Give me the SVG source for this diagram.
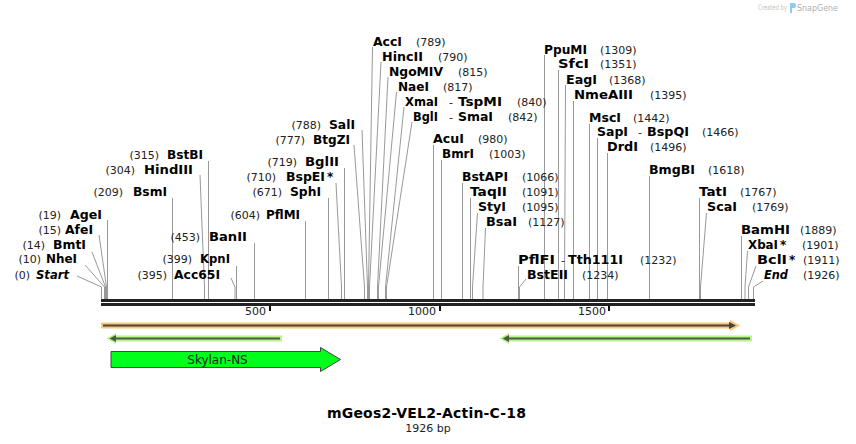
<svg xmlns="http://www.w3.org/2000/svg" width="856" height="444" viewBox="0 0 856 444">
<style>
.n{font-family:"DejaVu Sans",Verdana,sans-serif;font-size:12px;font-weight:bold;fill:#000}
.i{font-style:italic}
.p{font-family:"DejaVu Sans",Verdana,sans-serif;font-size:11px;fill:#222}
.e{text-anchor:end}
.l{stroke:#999;stroke-width:1;fill:none}
.tk{stroke:#111;stroke-width:2}
</style>
<rect width="856" height="444" fill="#fff"/>
<g id="watermark">
<text x="758" y="10" font-family="DejaVu Sans,sans-serif" font-size="7.5" fill="#c4c4c4" textLength="29" lengthAdjust="spacingAndGlyphs">Created by</text>
<path d="M790,3 h3.5 a2.5,2.5 0 0 1 0,5 h-1.5 v5 h-2 z" fill="#8ecbf2"/>
<text x="797" y="11" font-family="DejaVu Sans,sans-serif" font-size="9.5" fill="#b0b0b0" textLength="41" lengthAdjust="spacingAndGlyphs">SnapGene</text>
</g>
<g id="backbone">
<rect x="101" y="299" width="654" height="3" fill="#222"/>
<rect x="101" y="303" width="654" height="3" fill="#222"/>
<line class="tk" x1="270" y1="306" x2="270" y2="311"/>
<line class="tk" x1="440" y1="306" x2="440" y2="311"/>
<line class="tk" x1="609" y1="306" x2="609" y2="311"/>
<text class="p e" x="266" y="315">500</text>
<text class="p e" x="436" y="315">1000</text>
<text class="p e" x="606" y="315">1500</text>
</g>
<g id="connectors">
<polyline class="l" points="77,276 101.5,287 101.5,299"/>
<polyline class="l" points="85,265 104.5,287 104.5,299"/>
<polyline class="l" points="92,252 105.5,287 105.5,299"/>
<polyline class="l" points="99,235 106.5,287 106.5,299"/>
<polyline class="l" points="107.5,220 107.5,299"/>
<polyline class="l" points="172.5,198 172.5,299"/>
<polyline class="l" points="200,175 204.5,287 204.5,299"/>
<polyline class="l" points="208.5,161 208.5,299"/>
<polyline class="l" points="231,278 235,287 235,299"/>
<polyline class="l" points="236.5,266 236.5,299"/>
<polyline class="l" points="254.5,243 254.5,299"/>
<polyline class="l" points="305.5,221 305.5,299"/>
<polyline class="l" points="328.5,198 328.5,299"/>
<polyline class="l" points="336,183 341.5,287 341.5,299"/>
<polyline class="l" points="344.5,168 344.5,299"/>
<polyline class="l" points="354,145 364.5,287 364.5,299"/>
<polyline class="l" points="362,130 367.5,287 367.5,299"/>
<polyline class="l" points="372.5,47 368.5,287 368.5,299"/>
<polyline class="l" points="381,62 369.5,287 369.5,299"/>
<polyline class="l" points="388,77 377.5,287 377.5,299"/>
<polyline class="l" points="396.5,92 378.5,287 378.5,299"/>
<polyline class="l" points="404,107 385.5,287 385.5,299"/>
<polyline class="l" points="412,122 386.5,287 386.5,299"/>
<polyline class="l" points="433.5,145 433.5,299"/>
<polyline class="l" points="441.5,160 441.5,299"/>
<polyline class="l" points="462.5,183 462.5,299"/>
<polyline class="l" points="470.5,198 470.5,299"/>
<polyline class="l" points="477.5,213 472.5,287 472.5,299"/>
<polyline class="l" points="485.5,228 483,287 483,299"/>
<polyline class="l" points="518.5,266 518.5,299"/>
<polyline class="l" points="526,279 519.5,287 519.5,299"/>
<polyline class="l" points="544.5,55 544.5,299"/>
<polyline class="l" points="558.5,70 558.5,299"/>
<polyline class="l" points="565.5,85 564.5,287 564.5,299"/>
<polyline class="l" points="573.5,101 573.5,299"/>
<polyline class="l" points="589.5,124 589.5,299"/>
<polyline class="l" points="597.5,138 597.5,299"/>
<polyline class="l" points="607.5,153 607.5,299"/>
<polyline class="l" points="649.5,176 649.5,299"/>
<polyline class="l" points="699.5,198 699.5,299"/>
<polyline class="l" points="706.5,213 700.5,287 700.5,299"/>
<polyline class="l" points="741.5,236 741.5,299"/>
<polyline class="l" points="747.5,251 745,287 745,299"/>
<polyline class="l" points="756,266 748.5,287 748.5,299"/>
<polyline class="l" points="763,281 753.5,287 753.5,299"/>
</g>
<g id="Start"><text class="p e" x="30" y="279">(0)</text><text class="n i" x="36" y="279" textLength="33" lengthAdjust="spacingAndGlyphs">Start</text></g>
<g id="NheI"><text class="p e" x="41" y="263">(10)</text><text class="n" x="46" y="263" textLength="31" lengthAdjust="spacingAndGlyphs">NheI</text></g>
<g id="BmtI"><text class="p e" x="45" y="249">(14)</text><text class="n" x="53" y="249" textLength="33" lengthAdjust="spacingAndGlyphs">BmtI</text></g>
<g id="AfeI"><text class="p e" x="61" y="234">(15)</text><text class="n" x="65" y="234" textLength="28" lengthAdjust="spacingAndGlyphs">AfeI</text></g>
<g id="AgeI"><text class="p e" x="61" y="219">(19)</text><text class="n" x="70" y="219" textLength="32" lengthAdjust="spacingAndGlyphs">AgeI</text></g>
<g id="BsmI"><text class="p e" x="123" y="196">(209)</text><text class="n" x="133" y="196" textLength="34" lengthAdjust="spacingAndGlyphs">BsmI</text></g>
<g id="HindIII"><text class="p e" x="135" y="174">(304)</text><text class="n" x="144" y="174" textLength="49" lengthAdjust="spacingAndGlyphs">HindIII</text></g>
<g id="BstBI"><text class="p e" x="159" y="159">(315)</text><text class="n" x="167" y="159" textLength="36" lengthAdjust="spacingAndGlyphs">BstBI</text></g>
<g id="Acc65I"><text class="p e" x="167" y="279">(395)</text><text class="n" x="174" y="279" textLength="46" lengthAdjust="spacingAndGlyphs">Acc65I</text></g>
<g id="KpnI"><text class="p e" x="192" y="263">(399)</text><text class="n" x="200" y="263" textLength="30" lengthAdjust="spacingAndGlyphs">KpnI</text></g>
<g id="BanII"><text class="p e" x="200" y="241">(453)</text><text class="n" x="209" y="241" textLength="38" lengthAdjust="spacingAndGlyphs">BanII</text></g>
<g id="PflMI"><text class="p e" x="260" y="219">(604)</text><text class="n" x="266" y="219" textLength="34" lengthAdjust="spacingAndGlyphs">PflMI</text></g>
<g id="SphI"><text class="p e" x="282" y="196">(671)</text><text class="n" x="290" y="196" textLength="31" lengthAdjust="spacingAndGlyphs">SphI</text></g>
<g id="BspEI"><text class="p e" x="276" y="181">(710)</text><text class="n" x="286" y="181" textLength="39" lengthAdjust="spacingAndGlyphs">BspEI</text><text class="n" x="327" y="181">*</text></g>
<g id="BglII"><text class="p e" x="297" y="166">(719)</text><text class="n" x="305" y="166" textLength="34" lengthAdjust="spacingAndGlyphs">BglII</text></g>
<g id="BtgZI"><text class="p e" x="305" y="144">(777)</text><text class="n" x="313" y="144" textLength="37" lengthAdjust="spacingAndGlyphs">BtgZI</text></g>
<g id="SalI"><text class="p e" x="321" y="129">(788)</text><text class="n" x="329" y="129" textLength="26" lengthAdjust="spacingAndGlyphs">SalI</text></g>
<g id="AccI"><text class="n" x="373" y="46" textLength="29" lengthAdjust="spacingAndGlyphs">AccI</text><text class="p" x="416" y="46">(789)</text></g>
<g id="HincII"><text class="n" x="382" y="61" textLength="41" lengthAdjust="spacingAndGlyphs">HincII</text><text class="p" x="438" y="61">(790)</text></g>
<g id="NgoMIV"><text class="n" x="389" y="76" textLength="54" lengthAdjust="spacingAndGlyphs">NgoMIV</text><text class="p" x="458" y="76">(815)</text></g>
<g id="NaeI"><text class="n" x="398" y="91" textLength="31" lengthAdjust="spacingAndGlyphs">NaeI</text><text class="p" x="443" y="91">(817)</text></g>
<g id="XmaI"><text class="n" x="405" y="106" textLength="33" lengthAdjust="spacingAndGlyphs">XmaI</text><text class="p" x="449" y="106">-</text><text class="n" x="458" y="106" textLength="44" lengthAdjust="spacingAndGlyphs">TspMI</text><text class="p" x="517" y="106">(840)</text></g>
<g id="BglI"><text class="n" x="413" y="121" textLength="25" lengthAdjust="spacingAndGlyphs">BglI</text><text class="p" x="449" y="121">-</text><text class="n" x="458" y="121" textLength="35" lengthAdjust="spacingAndGlyphs">SmaI</text><text class="p" x="508" y="121">(842)</text></g>
<g id="AcuI"><text class="n" x="433" y="143" textLength="31" lengthAdjust="spacingAndGlyphs">AcuI</text><text class="p" x="478" y="143">(980)</text></g>
<g id="BmrI"><text class="n" x="442" y="158" textLength="32" lengthAdjust="spacingAndGlyphs">BmrI</text><text class="p" x="489" y="158">(1003)</text></g>
<g id="BstAPI"><text class="n" x="462" y="181" textLength="46" lengthAdjust="spacingAndGlyphs">BstAPI</text><text class="p" x="522" y="181">(1066)</text></g>
<g id="TaqII"><text class="n" x="470" y="196" textLength="37" lengthAdjust="spacingAndGlyphs">TaqII</text><text class="p" x="522" y="196">(1091)</text></g>
<g id="StyI"><text class="n" x="478" y="211" textLength="28" lengthAdjust="spacingAndGlyphs">StyI</text><text class="p" x="522" y="211">(1095)</text></g>
<g id="BsaI"><text class="n" x="486" y="226" textLength="31" lengthAdjust="spacingAndGlyphs">BsaI</text><text class="p" x="528" y="226">(1127)</text></g>
<g id="PflFI"><text class="n" x="518" y="264" textLength="37" lengthAdjust="spacingAndGlyphs">PflFI</text><text class="p" x="561" y="264">-</text><text class="n" x="568" y="264" textLength="55" lengthAdjust="spacingAndGlyphs">Tth111I</text><text class="p" x="640" y="264">(1232)</text></g>
<g id="BstEII"><text class="n" x="527" y="279" textLength="41" lengthAdjust="spacingAndGlyphs">BstEII</text><text class="p" x="582" y="279">(1234)</text></g>
<g id="PpuMI"><text class="n" x="544" y="54" textLength="43" lengthAdjust="spacingAndGlyphs">PpuMI</text><text class="p" x="600" y="54">(1309)</text></g>
<g id="SfcI"><text class="n" x="558" y="68" textLength="31" lengthAdjust="spacingAndGlyphs">SfcI</text><text class="p" x="600" y="68">(1351)</text></g>
<g id="EagI"><text class="n" x="566" y="84" textLength="31" lengthAdjust="spacingAndGlyphs">EagI</text><text class="p" x="609" y="84">(1368)</text></g>
<g id="NmeAIII"><text class="n" x="574" y="99" textLength="59" lengthAdjust="spacingAndGlyphs">NmeAIII</text><text class="p" x="650" y="99">(1395)</text></g>
<g id="MscI"><text class="n" x="589" y="122" textLength="32" lengthAdjust="spacingAndGlyphs">MscI</text><text class="p" x="633" y="122">(1442)</text></g>
<g id="SapI"><text class="n" x="597" y="136" textLength="31" lengthAdjust="spacingAndGlyphs">SapI</text><text class="p" x="638" y="136">-</text><text class="n" x="647" y="136" textLength="42" lengthAdjust="spacingAndGlyphs">BspQI</text><text class="p" x="702" y="136">(1466)</text></g>
<g id="DrdI"><text class="n" x="607" y="151" textLength="31" lengthAdjust="spacingAndGlyphs">DrdI</text><text class="p" x="650" y="151">(1496)</text></g>
<g id="BmgBI"><text class="n" x="649" y="174" textLength="46" lengthAdjust="spacingAndGlyphs">BmgBI</text><text class="p" x="708" y="174">(1618)</text></g>
<g id="TatI"><text class="n" x="699" y="196" textLength="28" lengthAdjust="spacingAndGlyphs">TatI</text><text class="p" x="740" y="196">(1767)</text></g>
<g id="ScaI"><text class="n" x="707" y="211" textLength="30" lengthAdjust="spacingAndGlyphs">ScaI</text><text class="p" x="752" y="211">(1769)</text></g>
<g id="BamHI"><text class="n" x="741" y="234" textLength="49" lengthAdjust="spacingAndGlyphs">BamHI</text><text class="p" x="800" y="234">(1889)</text></g>
<g id="XbaI"><text class="n" x="748" y="249" textLength="30" lengthAdjust="spacingAndGlyphs">XbaI</text><text class="n" x="780" y="249">*</text><text class="p" x="802" y="249">(1901)</text></g>
<g id="BclI"><text class="n" x="757" y="264" textLength="30" lengthAdjust="spacingAndGlyphs">BclI</text><text class="n" x="789" y="264">*</text><text class="p" x="803" y="264">(1911)</text></g>
<g id="End"><text class="n i" x="764" y="279" textLength="24" lengthAdjust="spacingAndGlyphs">End</text><text class="p" x="803" y="279">(1926)</text></g>
<g id="feature-orange">
<rect x="101" y="322.5" width="632" height="6" fill="#fcc474"/>
<polygon points="730,320 740,325.5 730,331" fill="#fcc474"/>
<line x1="103" y1="325.5" x2="731" y2="325.5" stroke="#444" stroke-width="2"/>
<polygon points="729,322 736,325.5 729,329" fill="#444"/>
</g>
<g id="feature-green-1">
<rect x="112" y="335.5" width="170" height="6" fill="#b8f28c"/>
<polygon points="116,333 106.5,338.5 116,344" fill="#b8f28c"/>
<line x1="113" y1="338.5" x2="280" y2="338.5" stroke="#4a5a44" stroke-width="2"/>
<polygon points="116,335 109.5,338.5 116,342" fill="#4a5a44"/>
</g>
<g id="feature-green-2">
<rect x="506" y="335.5" width="246" height="6" fill="#b8f28c"/>
<polygon points="509,333 499.5,338.5 509,344" fill="#b8f28c"/>
<line x1="506" y1="338.5" x2="750" y2="338.5" stroke="#4a5a44" stroke-width="2"/>
<polygon points="509,335 502.5,338.5 509,342" fill="#4a5a44"/>
</g>
<g id="Skylan-NS">
<polygon points="111,351.5 320.5,351.5 320.5,347.5 340.5,359.5 320.5,371.5 320.5,367.5 111,367.5" fill="#00ff1a" stroke="#444" stroke-width="1"/>
<text x="217.5" y="364" text-anchor="middle" font-family="DejaVu Sans,Verdana,sans-serif" font-size="12" fill="#222">Skylan-NS</text>
</g>
<g id="title">
<text x="426.5" y="418" text-anchor="middle" font-family="DejaVu Sans,Verdana,sans-serif" font-size="14" font-weight="bold" fill="#000" textLength="199">mGeos2-VEL2-Actin-C-18</text>
<text x="428" y="432" text-anchor="middle" font-family="DejaVu Sans,Verdana,sans-serif" font-size="11" fill="#222">1926 bp</text>
</g>
</svg>
